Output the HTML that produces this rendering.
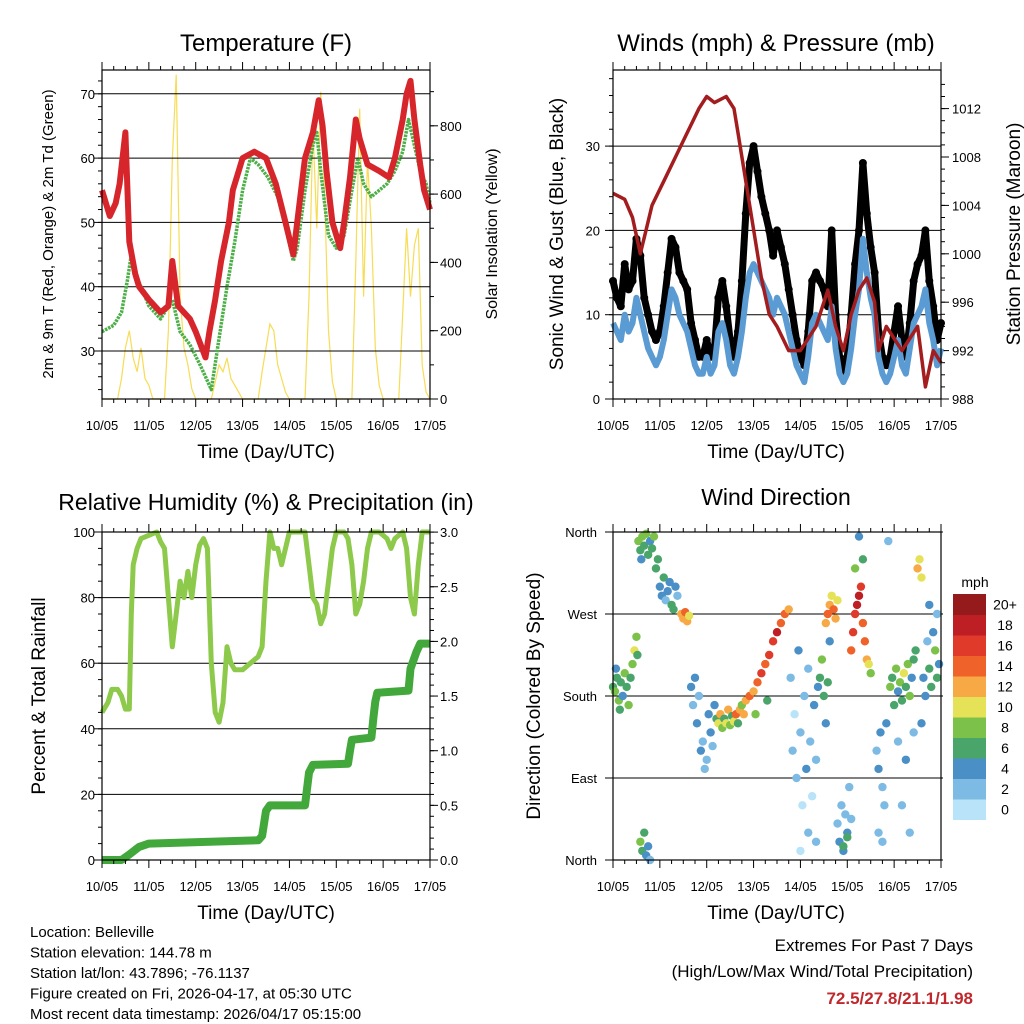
<!DOCTYPE html>
<html><head><meta charset="utf-8"><style>
body{margin:0;background:#fff;}
svg{display:block;font-family:"Liberation Sans",sans-serif;}
</style></head><body>
<svg id="chart" width="1024" height="1024" viewBox="0 0 1024 1024" xmlns="http://www.w3.org/2000/svg"></svg>
<script>
// ---------- DATA ----------
const dayLabels = ["10/05","11/05","12/05","13/05","14/05","15/05","16/05","17/05"];
const tempHours = [0,4,7,9,12,14,17,19,24,30,34,36,39,45,48,53,55,58,61,65,67,70,72,78,84,89,94,98,100,104,108,111,113,115,118,122,124,127,130,132,136,142,147,150,154,156,158,160,163,165,168];
const tempRed = [55,51,53,56,64,47,42,40,38,36,37,44,37,35,33,29,33,38,44,50,55,58,60,61,60,56,50,45,50,60,64,69,65,58,50,46,50,57,66,63,59,58,57,60,66,70,72,66,59,55,52];
const tdHours = [0,6,10,13,15,17,20,24,30,36,40,45,50,53,56,60,64,68,72,76,80,85,90,95,98,100,104,108,110,112,116,120,124,128,131,134,138,142,146,150,154,157,160,163,166,168];
const tdGreen = [33,34,36,41,45,42,40,37,35,38,33,31,28,26,24,32,40,47,55,60,59,57,54,48,44,46,55,62,64,58,48,46,48,55,60,56,54,55,56,58,61,66,62,58,56,53];
const insol = [0,0,0,0,0,60,150,200,120,80,150,60, 40,0,0,0,0,200,700,950,300,150,100,30, 0,0,0,0,0,50,100,80,120,60,40,20, 0,0,0,0,0,80,150,220,200,100,60,20, 0,0,0,0,0,300,800,500,900,600,200,50, 0,0,0,0,0,400,850,300,700,500,150,40, 0,0,0,0,0,250,500,300,450,500,100,20, 0];
const presHours = [0,6,10,14,17,20,26,32,38,44,48,52,58,62,64,68,72,76,80,84,90,96,100,104,108,110,114,118,122,126,130,134,136,140,144,148,152,156,160,164,168];
const pressure = [1005,1004.5,1003,1000,1002,1004,1006,1008,1010,1012,1013,1012.5,1013,1012,1010,1006,1002,998,995,994,992,992,993,994,996,997,994,992,995,997,998,996,992,994,993,992,993,994,989,992,991];
const windMean = [9,8,7,10,8,9,12,10,8,6,5,4, 5,7,10,13,12,10,9,8,6,4,3,3, 5,3,4,8,9,7,4,3,5,8,12,15, 16,15,14,13,12,10,12,11,10,8,6,4, 3,2,5,9,10,9,8,7,11,6,3,2, 3,6,10,13,19,15,12,10,5,3,2,3, 5,7,4,3,6,9,10,11,13,9,7,4, 6];
const windGust = [14,12,11,16,13,14,19,17,12,10,8,7, 8,11,15,19,18,15,14,13,9,7,5,5, 7,5,6,12,14,11,7,5,8,14,22,28, 30,27,24,22,20,17,20,18,16,13,10,7, 5,4,8,14,15,14,13,11,20,10,5,3, 5,10,16,20,28,22,18,15,8,5,4,5, 8,11,7,5,9,14,16,17,20,14,11,7, 9];
const rhHours = [0,3,5,8,10,12,14,15,16,18,20,24,28,30,32,34,36,38,40,42,44,46,48,50,52,54,56,58,60,62,64,66,68,72,76,80,82,84,86,88,90,92,96,100,104,106,108,110,112,114,116,118,120,124,126,128,130,132,134,136,138,142,146,148,150,154,156,158,160,162,164,168];
const rhVals = [45,48,52,52,50,46,46,75,90,95,98,99,100,97,95,80,65,75,85,80,88,80,90,96,98,95,60,45,42,48,65,60,58,58,60,62,65,85,100,95,95,90,100,100,100,90,80,78,72,75,85,95,100,100,98,90,75,78,85,95,100,100,98,95,98,100,95,80,75,90,100,100];
const rainHours = [0,10,14,19,24,80,82,84,86,104,105,106,108,126,127,128,138,139,140,141,157,158,161,163,168];
const rainVals = [0,0,0.05,0.12,0.15,0.18,0.22,0.45,0.5,0.5,0.65,0.8,0.87,0.88,1.0,1.1,1.12,1.3,1.45,1.53,1.55,1.75,1.9,1.98,1.98];
const dirHours = [0,1,2,3,4,5,6,7,8,9,10,11,12,12.5,3.5,1.5, 13,14,15,16,17,18,19,20,21,14.5,22,23, 14,15,16,17,18,19, 24,25,26,27,28,29,30,31,32,33, 35,36,37,38,39, 40,41,42,43,44,45,46,47,48,49,50,51,52, 53,54,55,56,57,58,59,60,61,62,63,64,65,66,67, 68,70,72,74,76,78,80,82,84,86,88,90,73,79, 91,92,93,94,95,96,97,98,99,100,101,102,103,104,105,106,107,108,109,110,111,100,104,96, 109,110,111,112,113,114,115, 115,116,117,118,119,120,121,122,118,120, 122,123,124,125,126,127,128,129,130,131,132,124,128,126, 135,136,137,138,139,140,141,136,138, 142,143,144,145,146,147,148,149,150,151,152,153,154,155,156,157,158,159,160,161,162,163,164,165,166,167,146,150,154,148,152,158,162,166];
const dirDeg = [190,185,200,175,195,180,205,190,170,200,215,230,245,225,165,210, 350,340,355,345,358,335,350,342,355,330,320,330, 20,10,30,5,15,0, 300,290,310,285,295,305,280,275,300,290, 270,265,272,262,268, 190,170,200,150,180,120,130,100,110,160,140,125,170, 155,150,160,145,155,150,165,148,158,152,160,150,165,170,160, 175,180,185,195,205,215,225,240,250,260,270,275,160,175, 200,120,160,90,230,140,60,180,100,210,130,70,170,110,190,200,220,180,150,195,240,30,20,10, 260,270,280,290,275,265,285, 40,20,60,10,50,30,80,45,15,25, 230,250,270,280,290,300,260,240,220,215,205,320,330,355, 120,100,140,80,60,150,350,30,20, 190,200,170,210,185,195,175,205,190,215,180,200,220,230,320,330,310,200,180,240,210,190,250,230,200,215,130,110,140,60,30,150,280,270];
const dirSpd = [6,8,7,9,6,5,8,7,9,6,8,10,9,7,6,5, 8,7,9,6,8,7,5,6,8,4,6,7, 8,7,6,4,5,3, 5,4,6,3,4,5,6,7,4,3, 12,13,14,12,11, 4,3,5,4,3,4,3,2,3,4,5,3,4, 6,10,12,8,7,11,13,9,6,10,14,7,12,8,13, 12,14,13,15,16,14,17,16,18,15,14,12,8,6, 3,2,1,3,4,2,1,3,4,2,3,1,4,2,5,6,8,7,5,6,4,2,3,1, 12,14,13,11,15,12,10, 3,4,2,5,3,4,2,3,7,6, 14,16,17,18,19,17,15,14,12,10,8,8,6,4, 3,4,5,3,2,4,3,3,2, 8,7,6,9,5,8,7,10,6,8,9,5,7,6,12,10,11,5,4,3,6,7,5,8,6,4,3,4,3,2,3,4,5,3];
const cbLabels = ["0","2","4","6","8","10","12","14","16","18","20+"];
const cbColors = ["#b8e3f8","#7dbbe4","#4a8fc6","#4aa56a","#7cc24a","#e6e257","#f7a945","#ef6229","#df3a2a","#be1f25","#951a1c"];

// ---------- HELPERS ----------
const NS = "http://www.w3.org/2000/svg";
const svg = document.getElementById("chart");
function mk(tag, attrs, parent){
  const e = document.createElementNS(NS, tag);
  for (const k in attrs) e.setAttribute(k, attrs[k]);
  (parent || svg).appendChild(e);
  return e;
}
function txt(s, x, y, size, anchor, name, extra){
  const t = mk("text", Object.assign({x:x, y:y, "font-size":size, "text-anchor":anchor||"middle", fill:"#000"}, extra||{}));
  t.textContent = s;
  
  
  return t;
}
function pathFrom(xs, ys){
  let d = "";
  for (let i=0;i<xs.length;i++) d += (i? "L":"M") + xs[i].toFixed(1) + "," + ys[i].toFixed(1);
  return d;
}
function makeX(x0, x1){ return h => x0 + h*(x1-x0)/168; }

function panelFrame(x0, y0, x1, y1, name){
  const g = mk("g", {});
  
  
  return g;
}
function drawBox(g, x0,y0,x1,y1){
  mk("rect",{x:x0,y:y0,width:x1-x0,height:y1-y0,fill:"none",stroke:"#000","stroke-width":1.2},g);
}
function xAxis(g, X, y0, y1, labelY, titleY, cx){
  for (let h=0; h<=168; h+=6){
    const major = h%24===0, len = major?8:4;
    mk("line",{x1:X(h),x2:X(h),y1:y1,y2:y1+len,stroke:"#000","stroke-width":1},g);
    mk("line",{x1:X(h),x2:X(h),y1:y0,y2:y0-len,stroke:"#000","stroke-width":1},g);
  }
  dayLabels.forEach((s,i)=>txt(s, X(i*24), labelY, 13, "middle", "x-tick-label"));
  txt("Time (Day/UTC)", cx, titleY, 19, "middle", "x-axis-title");
}
function yTicks(g, Y, vals, minorVals, xl, xr, side, grid, labelX, fmt, anchor){
  minorVals.forEach(v=>{
    const y=Y(v);
    if (side==="L") mk("line",{x1:xl,x2:xl-4,y1:y,y2:y,stroke:"#000"},g);
    else mk("line",{x1:xr,x2:xr+4,y1:y,y2:y,stroke:"#000"},g);
  });
  vals.forEach(v=>{
    const y=Y(v);
    if (side==="L") mk("line",{x1:xl,x2:xl-8,y1:y,y2:y,stroke:"#000"},g);
    else mk("line",{x1:xr,x2:xr+8,y1:y,y2:y,stroke:"#000"},g);
    if (grid) mk("line",{x1:xl,x2:xr,y1:y,y2:y,stroke:"#000","stroke-width":1},g);
    txt(fmt(v), labelX, y+5, 13, anchor, "y-tick-label");
  });
}
function range(a,b,s){ const r=[]; for(let v=a; v<=b+1e-9; v+=s) r.push(+v.toFixed(4)); return r; }

// ---------- PANEL 1: TEMPERATURE ----------
{
  const x0=102,x1=430,y0=70,y1=399;
  const X = makeX(x0,x1);
  const YT = v => 351 - (v-30)*6.43;
  const YS = v => 399 - v*0.3415;
  const g = panelFrame(x0,y0,x1,y1,"temperature-panel");
  txt("Temperature (F)", 266, 51, 24, "middle", "temperature-title");
  const ih = insol.map((v,i)=>i*2);
  const pi = mk("path",{d:pathFrom(ih.map(X), insol.map(YS)), fill:"none", stroke:"#f7dc55","stroke-width":1.2}, g);
  
  
  yTicks(g, YT, [30,40,50,60,70], range(24,72,2), x0, x1, "L", true, 95, v=>v, "end");
  yTicks(g, YS, [0,200,400,600,800], range(0,900,100), x0, x1, "R", false, 440, v=>v, "start");
  const pg = mk("path",{d:pathFrom(tdHours.map(X), tdGreen.map(YT)), fill:"none", stroke:"#4caf48","stroke-width":3.5,"stroke-dasharray":"2.5,1","stroke-linejoin":"round"}, g);
  
  
  const pr = mk("path",{d:pathFrom(tempHours.map(X), tempRed.map(YT)), fill:"none", stroke:"#d7262b","stroke-width":6,"stroke-linejoin":"round"}, g);
  
  
  drawBox(g,x0,y0,x1,y1);
  xAxis(g, X, y0, y1, 430, 458, 266);
  txt("2m & 9m T (Red, Orange) & 2m Td (Green)", 0, 0, 15, "middle", "temperature-y-axis-title", {transform:"translate(53,234) rotate(-90)"});
  txt("Solar Insolation (Yellow)", 0, 0, 16, "middle", "insolation-y-axis-title", {transform:"translate(497,234) rotate(-90)"});
}

// ---------- PANEL 2: WINDS ----------
{
  const x0=613,x1=941,y0=70,y1=399;
  const X = makeX(x0,x1);
  const YW = v => 399 - v*8.43;
  const YP = v => 399 - (v-988)*12.1;
  const g = panelFrame(x0,y0,x1,y1,"winds-panel");
  txt("Winds (mph) & Pressure (mb)", 776, 51, 24, "middle", "winds-title");
  yTicks(g, YW, [0,10,20,30], range(0,38,2), x0, x1, "L", true, 600, v=>v, "end");
  yTicks(g, YP, [988,992,996,1000,1004,1008,1012], range(988,1014,1), x0, x1, "R", false, 952, v=>v, "start");
  const wh = windGust.map((v,i)=>i*2);
  const gl = mk("path",{d:pathFrom(wh.map(X), windGust.map(YW)), fill:"none", stroke:"#000","stroke-width":7,"stroke-linejoin":"round"}, g);
  
  
  windGust.forEach((v,i)=>{
    const c = mk("circle",{cx:X(wh[i]), cy:YW(v), r:4, fill:"#000"}, g);
    
    
  });
  const wl = mk("path",{d:pathFrom(wh.map(X), windMean.map(YW)), fill:"none", stroke:"#5a9bd3","stroke-width":6,"stroke-linejoin":"round"}, g);
  
  
  const pl = mk("path",{d:pathFrom(presHours.map(X), pressure.map(YP)), fill:"none", stroke:"#a31d1f","stroke-width":3.5,"stroke-linejoin":"round"}, g);
  
  
  drawBox(g,x0,y0,x1,y1);
  xAxis(g, X, y0, y1, 430, 458, 776);
  txt("Sonic Wind & Gust (Blue, Black)", 0, 0, 19, "middle", "wind-y-axis-title", {transform:"translate(563,234) rotate(-90)"});
  txt("Station Pressure (Maroon)", 0, 0, 19, "middle", "pressure-y-axis-title", {transform:"translate(1020,234) rotate(-90)"});
}

// ---------- PANEL 3: RH & PRECIP ----------
{
  const x0=102,x1=430,y0=532,y1=860;
  const X = makeX(x0,x1);
  const YH = v => 860 - v*3.28;
  const YR = v => 860 - v*109.3;
  const g = panelFrame(x0,y0,x1,y1,"humidity-panel");
  txt("Relative Humidity (%) & Precipitation (in)", 266, 510, 23, "middle", "humidity-title");
  yTicks(g, YH, [0,20,40,60,80,100], range(0,100,5), x0, x1, "L", true, 95, v=>v, "end");
  yTicks(g, YR, [0,0.5,1,1.5,2,2.5,3], range(0,3,0.1), x0, x1, "R", false, 440, v=>v.toFixed(1), "start");
  const rl = mk("path",{d:pathFrom(rainHours.map(X), rainVals.map(YR)), fill:"none", stroke:"#43a83c","stroke-width":8,"stroke-linejoin":"round"}, g);
  
  
  const hl = mk("path",{d:pathFrom(rhHours.map(X), rhVals.map(YH)), fill:"none", stroke:"#8dc94a","stroke-width":5,"stroke-linejoin":"round"}, g);
  
  
  drawBox(g,x0,y0,x1,y1);
  xAxis(g, X, y0, y1, 891, 919, 266);
  txt("Percent & Total Rainfall", 0, 0, 19, "middle", "humidity-y-axis-title", {transform:"translate(45,696) rotate(-90)"});
}

// ---------- PANEL 4: WIND DIRECTION ----------
{
  const x0=613,x1=941,y0=532,y1=860;
  const X = makeX(x0,x1);
  const YD = d => 860 - d*328/360;
  const g = panelFrame(x0,y0,x1,y1,"wind-direction-panel");
  txt("Wind Direction", 776, 505, 23, "middle", "wind-direction-title");
  const dirNames = ["North","East","South","West","North"];
  [0,90,180,270,360].forEach((d,i)=>{
    const y=YD(d);
    mk("line",{x1:x0-8,x2:x1+2,y1:y,y2:y,stroke:"#000"},g);
    txt(dirNames[i], 597, y+5, 13, "end", "y-tick-label");
  });
  function spdColor(s){ const i = Math.min(10, Math.floor(s/2)); return cbColors[i]; }
  dirHours.forEach((h,i)=>{
    const c = mk("circle",{cx:X(h), cy:YD(dirDeg[i]), r:4.2, fill:spdColor(dirSpd[i])}, g);
    
    
  });
  drawBox(g,x0,y0,x1,y1);
  xAxis(g, X, y0, y1, 891, 919, 776);
  txt("Direction (Colored By Speed)", 0, 0, 19, "middle", "direction-y-axis-title", {transform:"translate(540,696) rotate(-90)"});
  const cb = mk("g",{});
  
  
  txt("mph", 975, 587, 14, "middle", "colorbar-unit");
  const top=594, bh=20.5;
  cbColors.forEach((c,i)=>{
    const y = top + (10-i)*bh;
    const r = mk("rect",{x:953,y:y,width:33,height:bh+0.5,fill:c},cb);
    
    
    txt(cbLabels[i], 1005, y+bh/2+5, 14, "middle", "colorbar-label");
  });
}

// ---------- FOOTER ----------
["Location: Belleville","Station elevation: 144.78 m","Station lat/lon: 43.7896; -76.1137","Figure created on Fri, 2026-04-17, at 05:30 UTC","Most recent data timestamp: 2026/04/17 05:15:00"].forEach((s,i)=>{
  txt(s, 30, 937+i*20.5, 15, "start", "station-info-line");
});
txt("Extremes For Past 7 Days", 973, 951, 17, "end", "extremes-title");
txt("(High/Low/Max Wind/Total Precipitation)", 973, 977, 17, "end", "extremes-subtitle");
txt("72.5/27.8/21.1/1.98", 973, 1004, 17, "end", "extremes-values", {fill:"#c0282d","font-weight":"bold"});
</script>
</body></html>
